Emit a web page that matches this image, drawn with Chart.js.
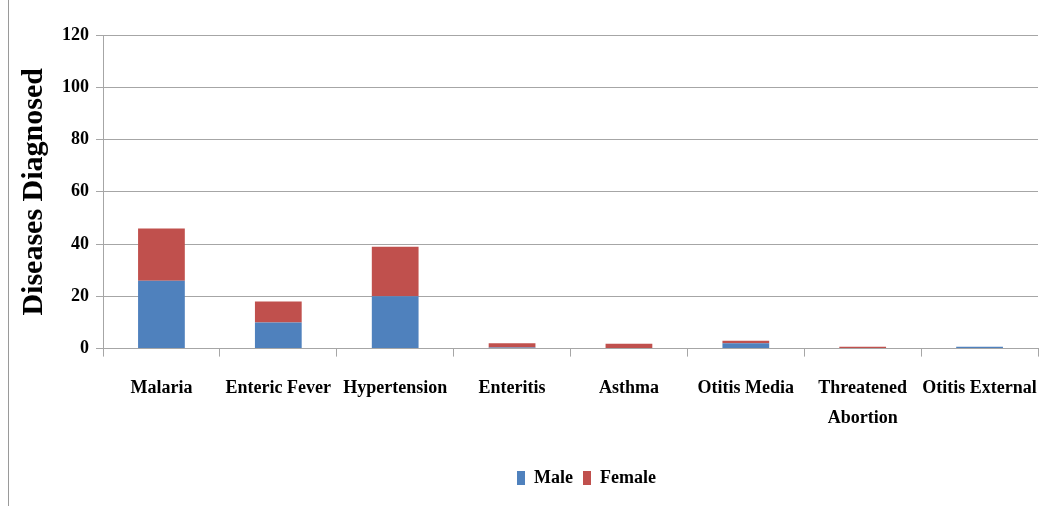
<!DOCTYPE html>
<html>
<head>
<meta charset="utf-8">
<script src="https://cdn.jsdelivr.net/npm/chart.js@4"></script>
<style>
  body { margin: 0; background: #fff; }
  #frame { position: absolute; left: 0; top: 0; width: 1045px; height: 506px; }
  #frame:before { content: ""; position: absolute; left: 8px; top: 0; bottom: 0; border-left: 1px solid #9a9a9a; }
</style>
</head>
<body>
<div id="frame"><canvas id="diseaseChart" width="1045" height="506"></canvas></div>
<script>
// dados
var diseases = ['Malaria', 'Enteric Fever', 'Hypertension', 'Enteritis', 'Asthma', 'Otitis Media', ['Threatened', 'Abortion'], 'Otitis External'];
var maleCases = [26, 10, 20, 0.4, 0, 2, 0, 0.7];
var femaleCases = [20, 8, 19, 1.6, 1.9, 1, 0.7, 0];
var yTicks = [0, 20, 40, 60, 80, 100, 120];

var gridColor = '#a6a6a6';
var serif = 'Liberation Serif, Times New Roman, serif';

// desloca a legenda para o centro da area do grafico, como no original
var legendShift = {
  id: 'legendShift',
  afterLayout: function(chart){
    var shift = (chart.chartArea.left + chart.chartArea.right) / 2 - chart.width / 2 + 13;
    chart.legend.left += shift;
    chart.legend.right += shift;
  }
};

new Chart(document.getElementById('diseaseChart'), {
  type: 'bar',
  data: {
    labels: diseases,
    datasets: [{
      label: 'Male',
      data: maleCases,
      backgroundColor: '#4F81BD',
      barPercentage: 0.4,
      categoryPercentage: 1.0
    }, {
      label: 'Female',
      data: femaleCases,
      backgroundColor: '#C0504D',
      barPercentage: 0.4,
      categoryPercentage: 1.0
    }]
  },
  plugins: [legendShift],
  options: {
    responsive: false,
    animation: false,
    devicePixelRatio: 1,
    layout: { padding: { left: 13, top: 35, right: 7, bottom: 9 } },
    plugins: {
      tooltip: { enabled: false },
      legend: {
        position: 'bottom',
        labels: {
          color: '#000',
          boxWidth: 8,
          boxHeight: 14,
          padding: 10,
          font: { family: serif, size: 18, weight: 'bold' }
        }
      }
    },
    scales: {
      x: {
        stacked: true,
        grid: { offset: true, drawOnChartArea: false, color: gridColor, tickLength: 8 },
        border: { color: gridColor },
        ticks: {
          color: '#000',
          padding: 17,
          maxRotation: 0,
          autoSkip: false,
          font: { family: serif, size: 18, weight: 'bold', lineHeight: 1.65 }
        },
        afterFit: function(scale){
          scale.height += 9;
          scale.paddingRight = 0;
          scale.paddingLeft = 0;
        }
      },
      y: {
        stacked: true,
        min: 0,
        max: 120,
        afterBuildTicks: function(scale){
          scale.ticks = yTicks.map(function(v){ return { value: v }; });
        },
        grid: { color: gridColor, tickLength: 7 },
        border: { color: gridColor },
        ticks: {
          color: '#000',
          padding: 7,
          font: { family: serif, size: 18, weight: 'bold' }
        },
        title: {
          display: true,
          text: 'Diseases Diagnosed',
          color: '#000',
          padding: 3,
          font: { family: serif, size: 30, weight: 'bold' }
        }
      }
    }
  }
});
</script>
</body>
</html>
